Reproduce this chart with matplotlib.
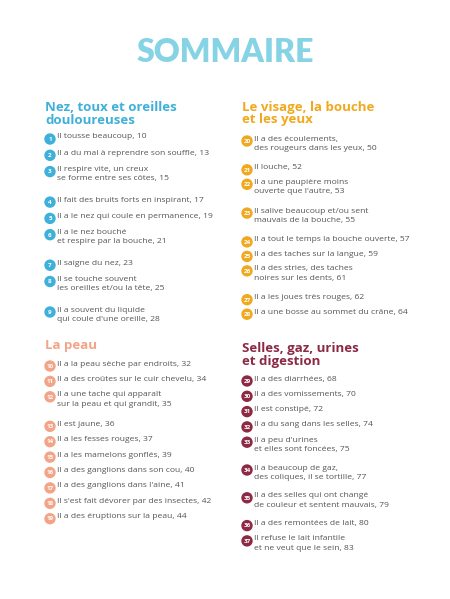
import matplotlib
matplotlib.use("Agg")
import matplotlib.pyplot as plt
from matplotlib.patches import Circle

title = "SOMMAIRE"
sec_titles = ["Nez, toux et oreilles\ndouloureuses", "La peau",
              "Le visage, la bouche\net les yeux", "Selles, gaz, urines\net digestion"]
sec_colors = ["#3fb0d9", "#f2a488", "#f0a91e", "#8c2944"]
sec1 = ["Il tousse beaucoup", "Il a du mal à reprendre son souffle",
        "Il respire vite, un creux\nse forme entre ses côtes", "Il fait des bruits forts en inspirant",
        "Il a le nez qui coule en permanence", "Il a le nez bouché\net respire par la bouche",
        "Il saigne du nez", "Il se touche souvent\nles oreilles et/ou la tête",
        "Il a souvent du liquide\nqui coule d'une oreille"]
pages1 = [10, 13, 15, 17, 19, 21, 23, 25, 28]
sec2 = ["Il a la peau sèche par endroits", "Il a des croûtes sur le cuir chevelu",
        "Il a une tache qui apparaît\nsur la peau et qui grandit", "Il est jaune",
        "Il a les fesses rouges", "Il a les mamelons gonflés", "Il a des ganglions dans son cou",
        "Il a des ganglions dans l'aine", "Il s'est fait dévorer par des insectes",
        "Il a des éruptions sur la peau"]
pages2 = [32, 34, 35, 36, 37, 39, 40, 41, 42, 44]
sec3 = ["Il a des écoulements,\ndes rougeurs dans les yeux", "Il louche",
        "Il a une paupière moins\nouverte que l'autre", "Il salive beaucoup et/ou sent\nmauvais de la bouche",
        "Il a tout le temps la bouche ouverte", "Il a des taches sur la langue",
        "Il a des stries, des taches\nnoires sur les dents", "Il a les joues très rouges",
        "Il a une bosse au sommet du crâne"]
pages3 = [50, 52, 53, 55, 57, 59, 61, 62, 64]
sec4 = ["Il a des diarrhées", "Il a des vomissements", "Il est constipé",
        "Il a du sang dans les selles", "Il a peu d'urines\net elles sont foncées",
        "Il a beaucoup de gaz,\ndes coliques, il se tortille",
        "Il a des selles qui ont changé\nde couleur et sentent mauvais",
        "Il a des remontées de lait", "Il refuse le lait infantile\net ne veut que le sein"]
pages4 = [68, 70, 72, 74, 75, 77, 79, 80, 83]
start_nums = [1, 10, 20, 29]

fig = plt.figure(figsize=(4.5, 5.99), dpi=100)
ax = fig.add_axes([0, 0, 1, 1])
ax.set_xlim(0, 450); ax.set_ylim(599, 0); ax.axis("off")
FONT = "Open Sans"

ax.text(225, 53, title, ha="center", va="center", fontsize=23, fontweight="heavy",
        color="#86d3e6", family="Lato")

layout = [  # x_circle, heading y, first item y, single/double spacing
    (50, 101, 139, 16.3, 30.5),
    (50, 339, 366, 15.4, 29.5),
    (247, 101, 141, 14.5, 28.8),
    (247, 342, 381, 15.3, 27.8),
]
for s, (items, pages) in enumerate([(sec1, pages1), (sec2, pages2), (sec3, pages3), (sec4, pages4)]):
    xc, hy, y, sp1, sp2 = layout[s]
    col = sec_colors[s]
    ax.text(xc - 5, hy, sec_titles[s], ha="left", va="top", fontsize=9.5, fontweight="bold",
            color=col, family=FONT, linespacing=0.95)
    for i, (t, p) in enumerate(zip(items, pages)):
        ax.add_patch(Circle((xc, y), 5, color=col, zorder=3))
        ax.text(xc, y + 0.3, str(start_nums[s] + i), ha="center", va="center", fontsize=4.5,
                color="white", fontweight="bold", family=FONT, zorder=4)
        ax.text(xc + 7, y - 5.5, f"{t}, {p}", ha="left", va="top", fontsize=6.1,
                color="#555555", family=FONT, linespacing=1.45)
        y += sp2 if "\n" in t else sp1

fig.savefig("out.png", dpi=100)
